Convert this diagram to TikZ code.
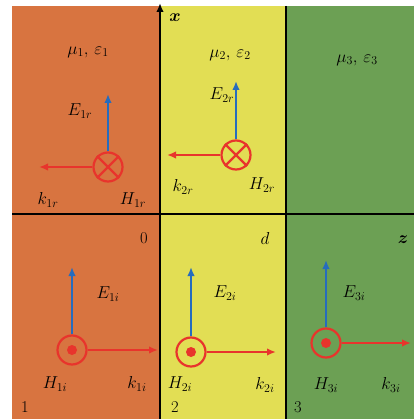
\documentclass[tikz,border=0pt]{standalone}
\usepackage{amssymb}
\usepackage{amsmath}
\usepackage{tikz}
\usetikzlibrary{calc, arrows.meta}

\definecolor{mediumA}{RGB}{216,116,64}
\definecolor{mediumB}{RGB}{226,222,84}
\definecolor{mediumC}{RGB}{108,160,84}
\definecolor{fieldE}{RGB}{38,108,190}
\definecolor{fieldK}{RGB}{232,52,44}

\tikzset{hcirc/.style={draw=fieldK,circle,line width=2.2pt,minimum size=29pt,inner sep=0pt},
         evec/.style={->,fieldE,line width=2.2pt},
         kvec/.style={->,fieldK,line width=2.2pt}}

\begin{document}
\begin{tikzpicture}[x=1pt,y=-1pt,inner sep=.8pt,>={Latex[length=9pt,width=7.5pt]},font=\fontsize{16.5}{19}\selectfont]
\useasboundingbox (0,0) rectangle (414,419);
\fill [mediumA] (12,6) rectangle (160,419);
\fill [mediumB] (160,6) rectangle (286,419);
\fill [mediumC] (286,6) rectangle (414,419);
% axes and boundaries
\coordinate (Xtop) at (160,3);
\coordinate (Xbot) at (160,419);
\coordinate (Zl) at (12,214);
\coordinate (Zr) at (414,214);
\coordinate (Dtop) at (286,6);
\coordinate (Dbot) at (286,419);
\draw [line width=2pt] (Zl) -- (Zr);
\draw [line width=2pt] (Dtop) -- (Dbot);
\draw [->,line width=2pt] (Xbot) -- (Xtop);
\draw node (lx) at (175,18) {$\boldsymbol{x}$};
\draw node (lz) at (403,240) {$\boldsymbol{z}$};
\draw node (l0) at (144,238) {0};
\draw node (ld) at (265,238) {$d$};
\draw node (l1) at (25,407) {1};
\draw node (l2) at (175,407) {2};
\draw node (l3) at (298,407) {3};
\draw node (m1) at (88,52) {$\mu_1,\,\varepsilon_1$};
\draw node (m2) at (230,55) {$\mu_2,\,\varepsilon_2$};
\draw node (m3) at (357,60) {$\mu_3,\,\varepsilon_3$};
% reflected waves
\draw node [hcirc] (H1r) at (108,167) {};
\draw node [hcirc] (H2r) at (236,155) {};
\draw [fieldK,line width=2.2pt] (H1r.north east) -- (H1r.south west) (H1r.north west) -- (H1r.south east);
\draw [fieldK,line width=2.2pt] (H2r.north east) -- (H2r.south west) (H2r.north west) -- (H2r.south east);
\coordinate (E1rtip) at (108,94);
\coordinate (k1rtip) at (39,167);
\coordinate (E2rtip) at (236,81);
\coordinate (k2rtip) at (167,155);
\draw [evec] (H1r.north) -- (E1rtip);
\draw [kvec] (H1r.west) -- (k1rtip);
\draw [evec] (H2r.north) -- (E2rtip);
\draw [kvec] (H2r.west) -- (k2rtip);
\draw node (lE1r) at (80,111) {$E_{1r}$};
\draw node (lk1r) at (48,200) {$k_{1r}$};
\draw node (lH1r) at (133,200) {$H_{1r}$};
\draw node (lE2r) at (222,95) {$E_{2r}$};
\draw node (lk2r) at (183,187) {$k_{2r}$};
\draw node (lH2r) at (262,185) {$H_{2r}$};
% incident waves
\draw node [hcirc] (H1i) at (72,350) {};
\draw node [hcirc] (H2i) at (191,352) {};
\draw node [hcirc] (H3i) at (326,343) {};
\fill [fieldK] (H1i) circle (5);
\fill [fieldK] (H2i) circle (5);
\fill [fieldK] (H3i) circle (5);
\coordinate (E1itip) at (72,267);
\coordinate (k1itip) at (158,350);
\coordinate (E2itip) at (191,267);
\coordinate (k2itip) at (276,352);
\coordinate (E3itip) at (326,260);
\coordinate (k3itip) at (411,343);
\draw [evec] (H1i.north) -- (E1itip);
\draw [kvec] (H1i.east) -- (k1itip);
\draw [evec] (H2i.north) -- (E2itip);
\draw [kvec] (H2i.east) -- (k2itip);
\draw [evec] (H3i.north) -- (E3itip);
\draw [kvec] (H3i.east) -- (k3itip);
\draw node (lE1i) at (108,294) {$E_{1i}$};
\draw node (lH1i) at (55,384) {$H_{1i}$};
\draw node (lk1i) at (137,384) {$k_{1i}$};
\draw node (lE2i) at (225,293) {$E_{2i}$};
\draw node (lH2i) at (180,384) {$H_{2i}$};
\draw node (lk2i) at (265,385) {$k_{2i}$};
\draw node (lE3i) at (354,293) {$E_{3i}$};
\draw node (lH3i) at (326,385) {$H_{3i}$};
\draw node (lk3i) at (391,385) {$k_{3i}$};
\end{tikzpicture}
\end{document}
